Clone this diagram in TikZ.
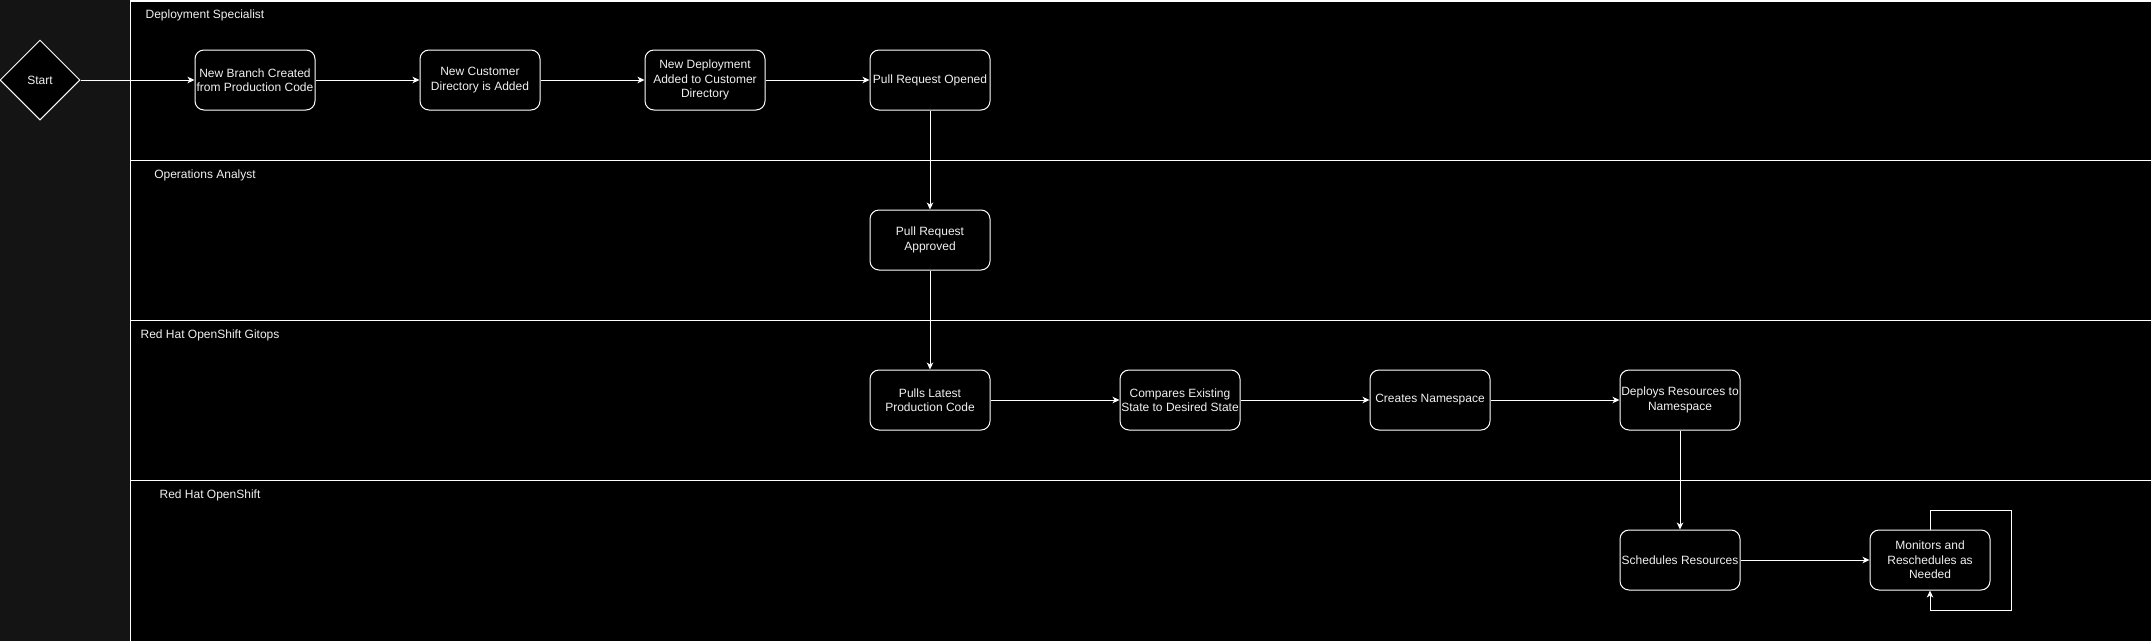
\documentclass[tikz,border=0pt]{standalone}
\usepackage{fontspec}
\setmainfont{Liberation Sans}
\usetikzlibrary{arrows.meta,shapes.geometric}
\definecolor{textc}{RGB}{240,240,240}
\definecolor{sidebg}{RGB}{20,20,20}
\begin{document}
\begin{tikzpicture}[x=1pt,y=-1pt,
  proc/.style={draw=white, line width=1pt, rounded corners=9pt, fill=black,
    minimum width=120pt, minimum height=60pt, align=center, text=textc,
    font=\fontsize{12}{14.4}\selectfont, inner sep=1pt},
  startshape/.style={diamond, draw=white, line width=1pt, fill=black,
    minimum width=80pt, minimum height=80pt, inner sep=0pt, text=textc,
    font=\fontsize{12}{14.4}\selectfont},
  lanelbl/.style={text=textc, font=\fontsize{12}{14.4}\selectfont, anchor=center, inner sep=0pt},
  laneline/.style={draw=white, line width=1.2pt},
  flow/.style={draw=white, line width=1pt, -{Stealth[length=7pt,width=6.5pt,inset=2pt]}},
]
\useasboundingbox (0,0) rectangle (2151,641);
\fill[sidebg] (0,0) rectangle (2151,641);
\fill[black] (130.5,1) rectangle (2151,641);
% lane lines
\draw[laneline] (130.5,1) -- (2151,1);
\draw[laneline] (130.5,0) -- (130.5,641);
\draw[laneline] (130.5,160.5) -- (2151,160.5);
\draw[laneline] (130.5,320.5) -- (2151,320.5);
\draw[laneline] (130.5,480.5) -- (2151,480.5);
% lane labels
\node[lanelbl] (l1) at (205,15) {Deployment Specialist};
\node[lanelbl] (l2) at (205,175) {Operations Analyst};
\node[lanelbl] (l3) at (210,335) {Red Hat OpenShift Gitops};
\node[lanelbl] (l4) at (210,495) {Red Hat OpenShift};
% nodes
\node[startshape] (start) at (40,80) {Start};
\node[proc] (b1) at (255,80) {New Branch Created\\from Production Code};
\node[proc] (b2) at (480,80) {New Customer\\Directory is Added};
\node[proc] (b3) at (705,80) {New Deployment\\Added to Customer\\Directory};
\node[proc] (b4) at (930,80) {Pull Request Opened};
\node[proc] (c1) at (930,240) {Pull Request\\Approved};
\node[proc] (d1) at (930,400) {Pulls Latest\\Production Code};
\node[proc] (d2) at (1180,400) {Compares Existing\\State to Desired State};
\node[proc] (d3) at (1430,400) {Creates Namespace};
\node[proc] (d4) at (1680,400) {Deploys Resources to\\Namespace};
\node[proc] (e1) at (1680,560) {Schedules Resources};
\node[proc] (e2) at (1930,560) {Monitors and\\Reschedules as\\Needed};
% connectors
\draw[flow] (start.east) -- (b1.west);
\draw[flow] (b1) -- (b2);
\draw[flow] (b2) -- (b3);
\draw[flow] (b3) -- (b4);
\draw[flow] (b4) -- (c1);
\draw[flow] (c1) -- (d1);
\draw[flow] (d1) -- (d2);
\draw[flow] (d2) -- (d3);
\draw[flow] (d3) -- (d4);
\draw[flow] (d4) -- (e1);
\draw[flow] (e1) -- (e2);
\coordinate (loopA) at (2011,510);
\coordinate (loopB) at (2011,610);
\draw[flow] (e2.north) |- (loopA) -- (loopB) -| (e2.south);
\end{tikzpicture}
\end{document}
